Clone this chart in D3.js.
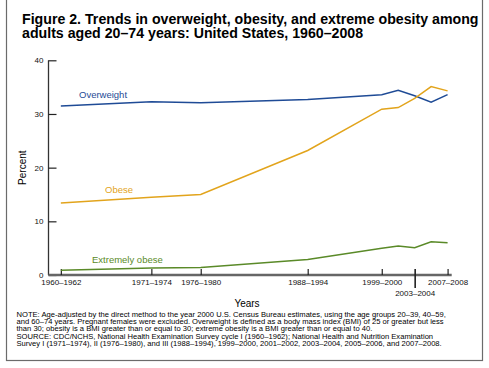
<!DOCTYPE html>
<html>
<head>
<meta charset="utf-8">
<script src="https://cdn.jsdelivr.net/npm/d3@7"></script>
<style>
  html, body { margin: 0; padding: 0; background: #fff; }
  svg { display: block; font-family: "Liberation Sans", Arial, sans-serif; }
</style>
</head>
<body>
<svg id="chart" width="489" height="368"></svg>
<script>
// ---- data ----
const surveys = ["1960–1962","1971–1974","1976–1980","1988–1994","1999–2000","2001–2002","2003–2004","2005–2006","2007–2008"];
const surveyYear = [1960.5, 1971.5, 1977.5, 1990.5, 1999.5, 2001.5, 2003.5, 2005.5, 2007.5];
const overweight = [31.5, 32.3, 32.1, 32.7, 33.6, 34.4, 33.4, 32.2, 33.6];
const obese      = [13.4, 14.5, 15.0, 23.2, 30.9, 31.2, 32.9, 35.1, 34.3];
const extreme    = [0.9, 1.3, 1.4, 2.9, 5.0, 5.4, 5.1, 6.2, 6.0];
const tickedSurveys = ["1960–1962","1971–1974","1976–1980","1988–1994","1999–2000","2003–2004","2007–2008"];
const yTicks = [0, 10, 20, 30, 40];
const seriesNames = ["Overweight", "Obese", "Extremely obese"];
const titleLines = [
  "Figure 2. Trends in overweight, obesity, and extreme obesity among",
  "adults aged 20–74 years: United States, 1960–2008"
];
const noteLines = [
  "NOTE: Age-adjusted by the direct method to the year 2000 U.S. Census Bureau estimates, using the age groups 20–39, 40–59,",
  "and 60–74 years. Pregnant females were excluded. Overweight is defined as a body mass index (BMI) of 25 or greater but less",
  "than 30; obesity is a BMI greater than or equal to 30; extreme obesity is a BMI greater than or equal to 40.",
  "SOURCE: CDC/NCHS, National Health Examination Survey cycle I (1960–1962); National Health and Nutrition Examination",
  "Survey I (1971–1974), II (1976–1980), and III (1988–1994), 1999–2000, 2001–2002, 2003–2004, 2005–2006, and 2007–2008."
];

// ---- styles ----
const colors = { "Overweight": "#1f4b96", "Obese": "#e2a41c", "Extremely obese": "#5a8a28" };
const labelPos = {
  "Overweight": { x: 79, y: 98 },
  "Obese": { x: 105, y: 193 },
  "Extremely obese": { x: 92, y: 263 }
};

const svg = d3.select("#chart");

// border
svg.append("rect").attr("x", 6.5).attr("y", -2).attr("width", 476).attr("height", 362.5)
  .attr("fill", "none").attr("stroke", "#6b6b6b").attr("stroke-width", 1.2);

// title (font size fitted so the first line spans the reference width)
const title = svg.append("g");
const titleTexts = titleLines.map((t, i) =>
  title.append("text").attr("x", 22).attr("y", 23.5 + i * 14.5)
    .attr("font-weight", "bold").attr("font-size", 14).attr("fill", "#000").text(t));
{
  const w = titleTexts[0].node().getComputedTextLength();
  const fs = 14 * 457 / w;
  titleTexts.forEach(t => t.attr("font-size", fs));
}

const x = d3.scaleLinear().domain([1959, 2008]).range([48.5, 451.7]);
const y = d3.scaleLinear().domain([0, 40]).range([275, 60.3]);

// y axis
const yAxis = svg.append("g").attr("transform", `translate(${x(1959)},0)`)
  .call(d3.axisLeft(y).tickValues(yTicks).tickSize(-8).tickPadding(5).tickFormat(d3.format("d")));
yAxis.select(".domain").attr("stroke", "#333").attr("stroke-width", 1.3).attr("d", `M0,${y(40)}V${y(0)}`);
yAxis.selectAll(".tick line").attr("stroke", "#222").attr("stroke-width", 1.2);
yAxis.selectAll(".tick text").attr("font-size", 8).attr("fill", "#111").attr("font-family", "Liberation Sans, Arial, sans-serif");

// x axis
const yearOf = s => surveyYear[surveys.indexOf(s)];
const xAxis = svg.append("g").attr("transform", `translate(0,${y(0)})`)
  .call(d3.axisBottom(x).tickValues(tickedSurveys.map(yearOf)).tickSize(-6).tickPadding(4)
    .tickFormat(v => surveys[surveyYear.indexOf(v)]));
xAxis.select(".domain").attr("stroke", "#666").attr("stroke-width", 2.4).attr("d", `M${x(1959)},0H${x(2008)}`);
xAxis.selectAll(".tick line").attr("stroke", "#222").attr("stroke-width", 1.2);
xAxis.selectAll(".tick text").attr("font-size", 8).attr("fill", "#111").attr("font-family", "Liberation Sans, Arial, sans-serif");
xAxis.selectAll(".tick").filter(v => surveys[surveyYear.indexOf(v)] === "2003–2004")
  .each(function () {
    const g = d3.select(this);
    g.select("line").attr("y1", -6).attr("y2", 13).attr("stroke-width", 1.6);
    g.select("text").attr("y", 15);
  });

// axis titles
svg.append("text").attr("transform", `translate(26,${(y(0) + y(40)) / 2}) rotate(-90)`)
  .attr("text-anchor", "middle").attr("font-size", 10).attr("fill", "#000").text("Percent");
svg.append("text").attr("x", 247).attr("y", 306.5).attr("text-anchor", "middle")
  .attr("font-size", 10).attr("fill", "#000").text("Years");

// lines
const seriesData = [overweight, obese, extreme];
const line = d3.line().x((d, i) => x(surveyYear[i])).y(d => y(d));
seriesNames.forEach((name, k) => {
  svg.append("path").datum(seriesData[k]).attr("d", line)
    .attr("fill", "none").attr("stroke", colors[name]).attr("stroke-width", 1.5)
    .attr("stroke-linejoin", "miter");
  svg.append("text").attr("x", labelPos[name].x).attr("y", labelPos[name].y)
    .attr("font-size", 9.5).attr("fill", colors[name]).text(name);
});

// notes (font size fitted so the first line spans the reference width)
const noteTexts = noteLines.map((t, i) =>
  svg.append("text").attr("x", 16.5).attr("y", 316.5 + i * 7.4)
    .attr("font-size", 7.4).attr("fill", "#000").text(t));
{
  const w = noteTexts[0].node().getComputedTextLength();
  const fs = Math.min(7.6, 7.4 * 463 / w);
  noteTexts.forEach(t => t.attr("font-size", fs));
}
</script>
</body>
</html>
